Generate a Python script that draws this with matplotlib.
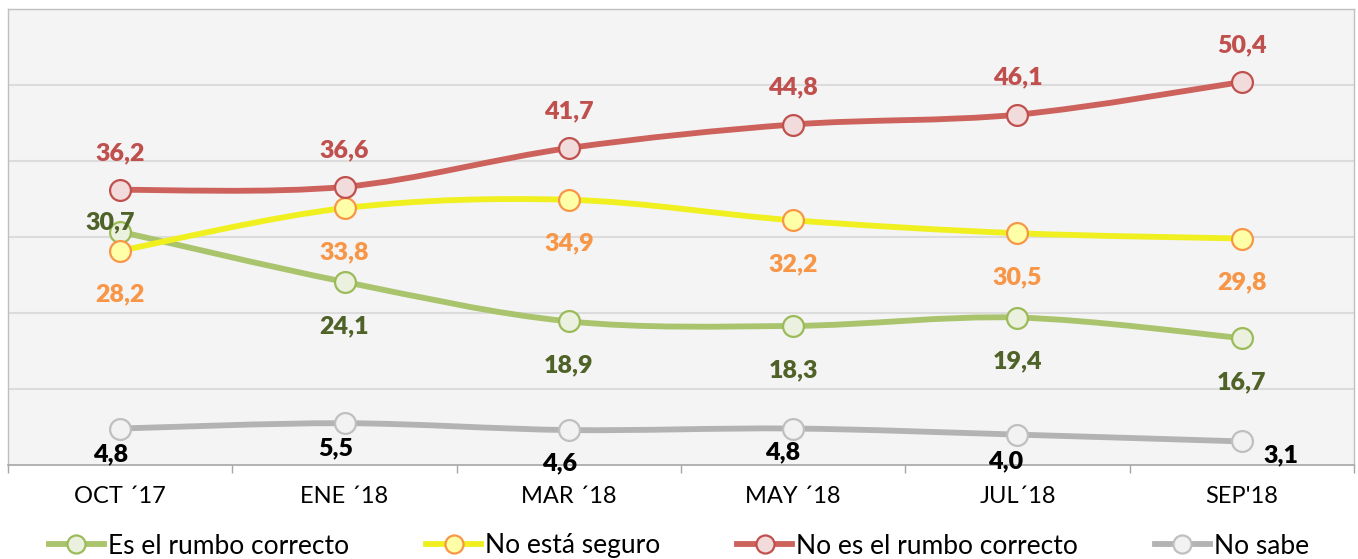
import numpy as np
import matplotlib
matplotlib.use("Agg")
from matplotlib import pyplot as plt
from matplotlib.path import Path
from matplotlib.patches import PathPatch
from matplotlib.lines import Line2D

plt.rcParams['font.family'] = ['Lato', 'DejaVu Sans']

meses = ["OCT \u00b417", "ENE \u00b418", "MAR \u00b418", "MAY \u00b418", "JUL\u00b418", "SEP'18"]
series = ["Es el rumbo correcto", "No está seguro", "No es el rumbo correcto", "No sabe"]
correcto = [30.7, 24.1, 18.9, 18.3, 19.4, 16.7]
no_seguro = [28.2, 33.8, 34.9, 32.2, 30.5, 29.8]
no_correcto = [36.2, 36.6, 41.7, 44.8, 46.1, 50.4]
no_sabe = [4.8, 5.5, 4.6, 4.8, 4.0, 3.1]

# estilos: linea, borde marcador, relleno marcador, color etiqueta
estilos = [
    ("#A9C46C", "#9BBB59", "#EBF1DE", "#4F6228"),
    ("#F0F020", "#F79646", "#FFFFA8", "#F79646"),
    ("#CD625C", "#C0504D", "#F2DCDB", "#C0504D"),
    ("#B3B3B3", "#BFBFBF", "#F2F2F2", "#000000"),
]
# desplazamiento de etiquetas (pixeles)
offs = [
    [(-10, 9), (0, -44), (0, -44), (0, -44), (0, -44), (0, -44)],
    [(0, -44)] * 6,
    [(0, 37)] * 6,
    [(-10, -26), (-9, -25), (-9, -33), (-11, -24), (-12, -27), (39, -14)],
]


def suave(x, y):
    # curva tipo Excel (Bezier con puntos de control Catmull-Rom)
    p = np.column_stack([x, y]).astype(float)
    q = np.vstack([p[0], p, p[-1]])
    verts = [p[0]]
    codes = [Path.MOVETO]
    for i in range(len(p) - 1):
        c1 = q[i + 1] + (q[i + 2] - q[i]) / 6.0
        c2 = q[i + 2] - (q[i + 3] - q[i + 1]) / 6.0
        verts += [c1, c2, q[i + 2]]
        codes += [Path.CURVE4] * 3
    return Path(verts, codes)


fig = plt.figure(figsize=(13.58, 5.59), dpi=100)
ax = fig.add_axes([8 / 1358, 1 - 465 / 559, 1346 / 1358, 456 / 559])
ax.set_facecolor("#F4F4F4")
ax.set_xlim(-0.5, 5.5)
ax.set_ylim(0, 60)
ax.set_yticks([10, 20, 30, 40, 50])
ax.yaxis.grid(True, color="#DCDCDC", lw=1.5)
ax.set_axisbelow(True)
ax.tick_params(axis="y", length=0, labelleft=False)
ax.set_xticks(range(6))
ax.set_xticklabels(meses, fontsize=17, color="#000000")
ax.tick_params(axis="x", which="major", length=0, pad=15)
ax.set_xticks(np.arange(-0.5, 6, 1), minor=True)
ax.tick_params(axis="x", which="minor", length=6, width=1, color="#A6A6A6")
for s in ["left", "right", "top"]:
    ax.spines[s].set_color("#BFBFBF")
    ax.spines[s].set_linewidth(1)
ax.spines["bottom"].set_color("#A6A6A6")
ax.spines["bottom"].set_linewidth(1.2)

x = np.arange(6)
handles = []
for k, vals in enumerate([correcto, no_seguro, no_correcto, no_sabe]):
    lc, mec, mfc, tc = estilos[k]
    ax.add_patch(PathPatch(suave(x, vals), fill=False, edgecolor=lc, lw=4.2,
                           capstyle="round", zorder=3 + k))
    ax.plot(x, vals, "o", ms=15, mfc=mfc, mec=mec, mew=1.6, zorder=3 + k)
    for i, v in enumerate(vals):
        ax.annotate(f"{v:.1f}".replace(".", ","), (i, v), xytext=offs[k][i],
                    textcoords="offset pixels", ha="center", va="center",
                    fontsize=18, fontweight="heavy", color=tc, zorder=10)
    handles.append(Line2D([], [], color=lc, lw=4.2, marker="o", ms=13,
                          mfc=mfc, mec=mec, mew=1.6))

fig.legend(handles, series, loc="center", bbox_to_anchor=(0.5, 1 - 546 / 559),
           ncol=4, frameon=False, fontsize=19, handlelength=2.1,
           handletextpad=0.15, columnspacing=2.9, borderaxespad=0)

fig.savefig("out.png", dpi=100, facecolor="white")
